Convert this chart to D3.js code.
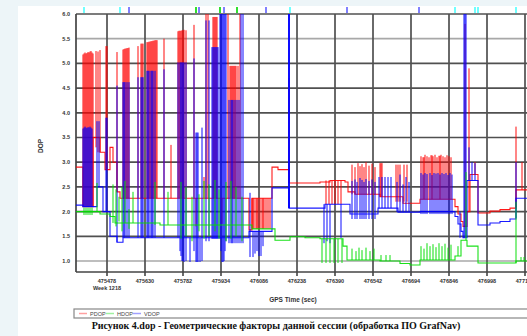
<!DOCTYPE html>
<html>
<head>
<meta charset="utf-8">
<script src="https://cdn.jsdelivr.net/npm/d3@7"></script>
<style>
body{margin:0;background:#edf5f8;}
</style>
</head>
<body>
<div id="chart"></div>
<script>
// gps time (sec) / dop values
var xTicks=[475478,475630,475782,475934,476086,476238,476390,476542,476694,476846,476998,477150];
var yTicks=[1.0,1.5,2.0,2.5,3.0,3.5,4.0,4.5,5.0,5.5,6.0];
var series=["PDOP","HDOP","VDOP"];

var pdopLine=[[475354,2.9],[475382,2.1],[475422,3.5],[475450,3.2],[475470,2.85],[475490,3.3],[475502,3.0],[475518,2.4],
  [475530,2.27],[476046,1.63],[476058,2.27],[476138,2.9],[476162,2.85],[476206,2.58],[476330,2.6],[476370,2.63],
  [476430,2.6],[476442,2.4],[476470,2.35],[476570,2.3],[476662,2.17],[476730,2.25],[476870,2.1],[476882,1.95],
  [476894,1.8],[476902,1.7],[476918,2.0],[476930,2.75],[476962,1.97],[477010,2.01],[477050,2.04],[477090,2.07],
  [477114,2.44],[477210,2.44]];
var pdopSpikes=[[475382,2.1,5.18],[475386,2.1,5.2],[475390,2.1,5.22],[475394,2.1,5.2],[475398,2.1,5.21],[475402,2.1,5.23],
  [475406,2.1,5.22],[475410,2.1,5.24],[475414,2.1,5.25],[475418,2.1,5.22],[475422,2.1,5.2],
  [475434,3.3,5.25],[475442,3.2,5.24],[475450,3.2,5.27],[475474,2.85,5.35],[475478,2.85,5.35],[475518,2.4,5.23],
  [475542,2.27,5.28],[475546,2.27,5.29],[475550,2.27,5.3],[475554,2.27,5.3],[475558,2.27,5.31],[475562,2.27,5.31],[475566,2.27,5.32],
  [475602,2.27,5.35],[475614,2.27,5.4],[475618,2.27,5.4],[475622,2.27,5.4],
  [475638,2.27,5.43],[475642,2.27,5.43],[475646,2.27,5.44],[475650,2.27,5.44],[475654,2.27,5.45],[475658,2.27,5.45],
  [475662,2.27,5.46],[475666,2.27,5.46],[475670,2.27,5.47],[475674,2.27,5.47],[475678,2.27,5.47],
  [475706,2.27,5.5],[475734,2.27,3.35],[475762,2.27,5.65],[475766,2.27,5.66],[475770,2.27,5.66],[475774,2.27,5.66],
  [475778,2.27,5.67],[475782,2.27,5.67],[475786,2.27,5.68],[475794,2.27,5.67],
  [475826,2.27,5.78],[475834,1.7,2.27],[475866,2.27,2.7],[475874,2.27,6.3],[475882,2.27,6.3],
  [475902,2.27,5.94],[475906,2.27,5.94],[475910,2.27,5.94],[475914,2.27,5.94],[475918,2.27,5.94],[475938,1.75,2.27],[475962,2.27,6.3],
  [475970,2.27,4.95],[475974,2.27,4.95],[475978,2.27,4.95],[475982,2.27,4.95],[475986,2.27,4.95],[475990,2.27,4.95],
  [475994,2.27,4.95],[476002,2.27,4.95],[476010,2.27,6.3],
  [476058,1.65,2.27],[476062,1.65,2.27],[476066,1.65,2.27],[476074,1.65,2.27],[476078,1.65,2.27],[476082,1.65,2.27],
  [476090,1.65,2.27],[476098,1.65,2.27],[476102,1.65,2.27],[476106,1.65,2.27],[476114,1.65,2.27],[476122,1.65,2.27],
  [476130,1.65,2.27],[476206,2.58,4.7],
  [476354,2.15,2.63],[476366,2.15,2.63],[476378,2.15,2.63],[476390,2.15,2.63],[476402,2.15,2.63],[476414,2.15,2.63],
  [476458,2.35,2.95],[476470,2.35,2.9],[476482,2.35,2.98],[476490,2.35,2.92],[476498,2.35,2.96],[476506,2.35,2.9],
  [476514,2.35,3.0],[476526,2.35,2.93],[476538,2.35,2.97],[476550,2.35,2.9],[476570,2.3,2.98],[476574,2.3,2.98],[476578,2.3,2.98],
  [476634,2.2,2.95],[476642,2.2,2.95],[476650,2.2,2.95],[476666,2.2,2.95],[476678,2.2,2.95],
  [476734,2.25,3.12],[476742,2.25,3.1],[476746,2.25,3.1],[476750,2.25,3.15],[476758,2.25,3.12],[476766,2.25,3.1],[476774,2.25,3.14],
  [476778,2.25,3.14],[476782,2.25,3.12],[476790,2.25,3.15],[476798,2.25,3.1],[476806,2.25,3.13],[476810,2.25,3.13],
  [476814,2.25,3.15],[476822,2.25,3.12],[476830,2.25,3.1],[476838,2.25,3.14],[476846,2.25,3.12],[476854,2.25,3.1],
  [476910,1.7,5.8],[476926,2.0,4.9],[476950,2.75,3.0],[477114,2.09,3.72],[477138,2.44,3.0]];

var hdopLine=[[475354,2.0],[475450,1.95],[475490,1.9],[475510,1.77],[475690,1.73],[476058,1.65],[476150,1.42],
  [476210,1.49],[476270,1.47],[476330,1.45],[476422,1.3],[476438,1.02],[476570,1.0],[476650,0.95],[476690,0.92],
  [476730,1.02],[476870,1.1],[476894,1.42],[476918,1.3],[476962,0.96],[477114,1.0],[477210,1.0]];
var hdopSpikes=[[475386,1.93,2.08],[475394,1.93,2.08],[475402,1.93,2.08],[475410,1.93,2.08],[475418,1.93,2.08],
  [475438,2.0,2.58],[475502,1.77,2.55],[475514,1.7,2.45],[475526,1.8,2.3],[475538,1.6,2.5],[475550,1.77,2.62],
  [475566,1.65,2.05],[475582,1.77,2.4],[475670,1.73,2.6],[475722,1.73,2.4],
  [475774,1.45,2.6],[475794,1.5,2.5],[475818,1.4,2.3],[475846,1.6,2.35],[475866,1.45,2.62],[475886,1.5,2.55],
  [475910,1.6,2.64],[475926,1.45,2.45],[475954,1.4,2.6],[475974,1.45,2.62],[475994,1.5,2.5],[476018,1.4,2.3],
  [476338,0.96,1.45],[476354,0.96,1.45],[476370,0.96,1.45],[476386,0.96,1.45],[476402,0.96,1.45],[476418,0.96,1.45],
  [476458,1.02,1.25],[476474,1.02,1.2],[476486,1.02,1.27],[476498,1.02,1.22],[476514,1.02,1.27],[476530,1.02,1.2],[476546,1.02,1.25],
  [476574,1.0,1.12],[476594,1.0,1.12],[476610,1.0,1.12],
  [476734,1.02,1.3],[476746,1.02,1.25],[476758,1.02,1.36],[476770,1.02,1.3],[476782,1.02,1.34],[476794,1.02,1.28],
  [476806,1.02,1.36],[476818,1.02,1.3],[476830,1.02,1.35],[476842,1.02,1.27],[476854,1.02,1.33],
  [476882,1.1,1.3],[476914,1.42,2.8],[477114,0.96,2.2],[477134,1.0,1.08],[477146,1.0,1.08]];

var vdopLine=[[475354,2.13],[475382,2.1],[475438,2.5],[475462,2.0],[475490,1.5],[475518,1.38],[475542,1.47],
  [476046,1.6],[476138,2.48],[476206,2.07],[476350,2.15],[476450,1.95],[476562,2.07],[476642,1.99],[476730,2.0],
  [476870,1.9],[476882,1.75],[476894,1.6],[476902,1.47],[476918,2.63],[476962,1.73],[477010,1.77],[477050,1.8],
  [477090,1.85],[477114,2.27],[477210,2.27]];
var vdopSpikes=[[475382,2.1,3.68],[475386,2.1,3.7],[475390,2.1,3.72],[475394,2.1,3.7],[475398,2.1,3.69],[475402,2.1,3.71],
  [475406,2.1,3.7],[475410,2.1,3.72],[475414,2.1,3.7],[475418,2.1,3.68],
  [475438,2.5,3.83],[475446,2.5,3.83],[475474,2.0,3.9],[475478,2.0,3.9],[475518,1.38,4.55],
  [475542,1.47,4.62],[475546,1.47,4.62],[475550,1.47,4.62],[475558,1.47,4.62],[475566,1.47,4.62],
  [475602,1.47,4.72],[475614,1.47,4.72],[475618,1.47,4.72],[475622,1.47,4.72],
  [475638,1.47,4.85],[475642,1.47,4.85],[475646,1.47,4.85],[475654,1.47,4.85],[475658,1.47,4.85],[475662,1.47,4.85],
  [475670,1.47,4.85],[475706,1.47,4.88],
  [475762,1.47,5.02],[475770,1.2,5.02],[475774,1.1,5.02],[475778,1.0,5.02],[475782,1.0,5.02],[475786,0.98,5.02],[475794,1.0,5.02],
  [475810,0.98,1.47],[475826,1.2,5.1],[475834,0.98,3.6],[475838,0.98,3.6],[475842,0.98,3.6],[475850,0.98,1.47],[475858,1.0,3.7],
  [475874,1.4,5.87],[475886,1.4,5.87],[475898,1.45,5.33],[475902,1.45,5.33],[475906,1.45,5.33],[475910,1.45,5.33],
  [475914,1.45,5.33],[475918,1.45,5.33],[475922,1.45,5.33],
  [475930,1.45,6.3],[475934,1.2,6.3],[475938,0.98,6.3],[475942,0.98,6.3],[475946,1.0,6.3],[475950,1.2,6.3],[475954,1.4,6.3],
  [475966,1.36,4.26],[475974,1.36,4.26],[475978,1.36,4.26],[475982,1.36,4.26],[475990,1.36,4.26],[475998,1.36,4.26],[476006,1.36,4.26],
  [476014,1.36,6.3],[476022,1.36,6.3],[476050,1.08,2.38],
  [476062,1.08,1.6],[476070,1.15,1.6],[476078,1.2,1.6],[476086,1.1,1.6],[476094,1.1,1.6],[476102,1.3,1.6],
  [476204,2.07,6.3],[476208,2.07,6.3],[476346,1.36,2.15],[476358,1.4,2.15],[476370,1.36,2.15],[476414,1.47,2.15],
  [476458,1.85,2.62],[476470,1.85,2.65],[476478,1.85,2.6],[476490,1.85,2.68],[476498,1.85,2.64],[476506,1.85,2.6],
  [476514,1.85,2.66],[476526,1.85,2.62],[476538,1.85,2.65],[476550,1.85,2.6],
  [476566,2.07,2.7],[476578,2.07,2.7],[476590,2.07,2.7],[476602,2.07,2.7],[476614,2.07,2.7],
  [476638,1.99,2.6],[476650,1.99,2.75],[476662,1.99,2.55],[476674,1.99,2.7],[476686,1.99,2.6],
  [476734,1.95,2.78],[476742,1.95,2.75],[476750,1.95,2.78],[476758,1.95,2.76],[476770,1.95,2.78],[476778,1.95,2.74],
  [476786,1.95,2.78],[476794,1.95,2.77],[476802,1.95,2.78],[476810,1.95,2.75],[476818,1.95,2.78],[476826,1.95,2.76],
  [476834,1.95,2.78],[476842,1.95,2.74],[476850,1.95,2.78],[476858,1.95,2.75],
  [476890,1.47,2.0],[476906,1.47,6.3],[476910,1.47,6.3],[476914,1.5,6.3],
  [476926,2.63,3.3],[476938,2.63,3.0],[476950,2.63,2.98],[477114,1.87,3.0]];

// event marks drawn above the plot frame
var markTimes=[475386,475530,475566,475834,475846,475930,475946,475998,476114,476210,476438,476726,476870,476950,476962,477114];
var markKinds=["c","c","b","g","b","g","b","g","b","c","b","b","c","c","c","c"];

var color={PDOP:"#ff0000",HDOP:"#00dd00",VDOP:"#0000ff"};
var legendColor={PDOP:"#ffa0a0",HDOP:"#a0f0a0",VDOP:"#a0a0ff"};
var markColor={c:"#70ffff",b:"#8080ff",g:"#30e030"};

var svg=d3.select("#chart").append("svg").attr("width",527).attr("height",336);
svg.append("rect").attr("width",527).attr("height",336).attr("fill","#edf5f8");
svg.append("rect").attr("x",18).attr("y",6).attr("width",509).attr("height",330).attr("fill","#fff");

var x=d3.scaleLinear().domain([475354,477210]).range([76,540]);
var y=d3.scaleLinear().domain([0.777,6.0]).range([272,14]);

svg.append("clipPath").attr("id","clip").append("rect").attr("x",76).attr("y",14).attr("width",470).attr("height",258);

// grid
var grid=svg.append("g");
grid.selectAll(".hg").data(yTicks).enter().append("line")
  .attr("x1",76).attr("x2",540).attr("y1",d=>y(d)).attr("y2",d=>y(d))
  .attr("stroke",d=>(d==5.5||d==1.0)?"#a8a8a8":"#505050").attr("stroke-width",1.7);
grid.selectAll(".vg").data(xTicks).enter().append("line")
  .attr("x1",d=>x(d)).attr("x2",d=>x(d)).attr("y1",14).attr("y2",276)
  .attr("stroke","#505050").attr("stroke-width",1.7);
grid.append("line").attr("x1",76).attr("x2",76).attr("y1",14).attr("y2",272).attr("stroke","#444").attr("stroke-width",1.7);
grid.append("line").attr("x1",76).attr("x2",540).attr("y1",272).attr("y2",272).attr("stroke","#444").attr("stroke-width",1.7);

var plot=svg.append("g").attr("clip-path","url(#clip)");
var line=d3.line().x(d=>x(d[0])).y(d=>y(d[1])).curve(d3.curveStepAfter);

function drawSeries(name,pts,spikes){
  var g=plot.append("g");
  g.selectAll("line").data(spikes).enter().append("line")
    .attr("x1",d=>x(d[0])).attr("x2",d=>x(d[0]))
    .attr("y1",d=>y(d[1])).attr("y2",d=>y(d[2]))
    .attr("stroke",color[name]).attr("stroke-width",1).attr("stroke-opacity",0.95);
  g.append("path").datum(pts).attr("d",line)
    .attr("fill","none").attr("stroke",color[name]).attr("stroke-width",1.1).attr("stroke-opacity",0.9);
}
drawSeries("PDOP",pdopLine,pdopSpikes);
drawSeries("VDOP",vdopLine,vdopSpikes);
drawSeries("HDOP",hdopLine,hdopSpikes);

svg.selectAll(".mk").data(markTimes).enter().append("rect")
  .attr("x",d=>x(d)-1).attr("y",7).attr("width",2).attr("height",6)
  .attr("fill",(d,i)=>markColor[markKinds[i]]);

// axis labels
svg.selectAll(".yl").data(yTicks).enter().append("text")
  .attr("x",70).attr("y",d=>y(d)+2).attr("text-anchor","end")
  .attr("font-family","Liberation Sans").attr("font-weight","bold").attr("font-size",5.5).attr("fill","#333")
  .text(d=>d3.format(".1f")(d));
svg.selectAll(".xl").data(xTicks).enter().append("text")
  .attr("x",d=>x(d)).attr("y",283).attr("text-anchor","middle")
  .attr("font-family","Liberation Sans").attr("font-weight","bold").attr("font-size",5.5).attr("fill","#333")
  .text(d=>d);
svg.append("text").attr("x",x(xTicks[0])).attr("y",290).attr("text-anchor","middle")
  .attr("font-family","Liberation Sans").attr("font-weight","bold").attr("font-size",5.5).attr("fill","#333")
  .text("Week 1218");
svg.append("text").attr("transform","translate(43,146) rotate(-90)").attr("text-anchor","middle")
  .attr("font-family","Liberation Sans").attr("font-weight","bold").attr("font-size",6.5).attr("fill","#333").text("DOP");
svg.append("text").attr("x",293).attr("y",302).attr("text-anchor","middle")
  .attr("font-family","Liberation Sans").attr("font-weight","bold").attr("font-size",6.5).attr("fill","#333").text("GPS Time (sec)");

// legend
var lg=svg.append("g");
lg.append("rect").attr("x",74).attr("y",309).attr("width",470).attr("height",9).attr("fill","#fff").attr("stroke","#888").attr("stroke-width",1.2);
var li=lg.selectAll(".li").data(series).enter().append("g").attr("transform",(d,i)=>"translate("+(79+i*27)+",313.5)");
li.append("line").attr("x1",0).attr("x2",8).attr("stroke",d=>legendColor[d]).attr("stroke-width",1.5);
li.append("text").attr("x",11).attr("y",2).attr("font-family","Liberation Sans").attr("font-size",5.5).attr("fill","#444").text(d=>d);

svg.append("text").attr("x",276).attr("y",329).attr("text-anchor","middle")
  .attr("font-family","Liberation Serif").attr("font-weight","bold").attr("font-size",10).attr("fill","#111")
  .text("Рисунок 4.dop - Геометрические факторы данной сессии (обработка ПО GrafNav)");
</script>
</body>
</html>
